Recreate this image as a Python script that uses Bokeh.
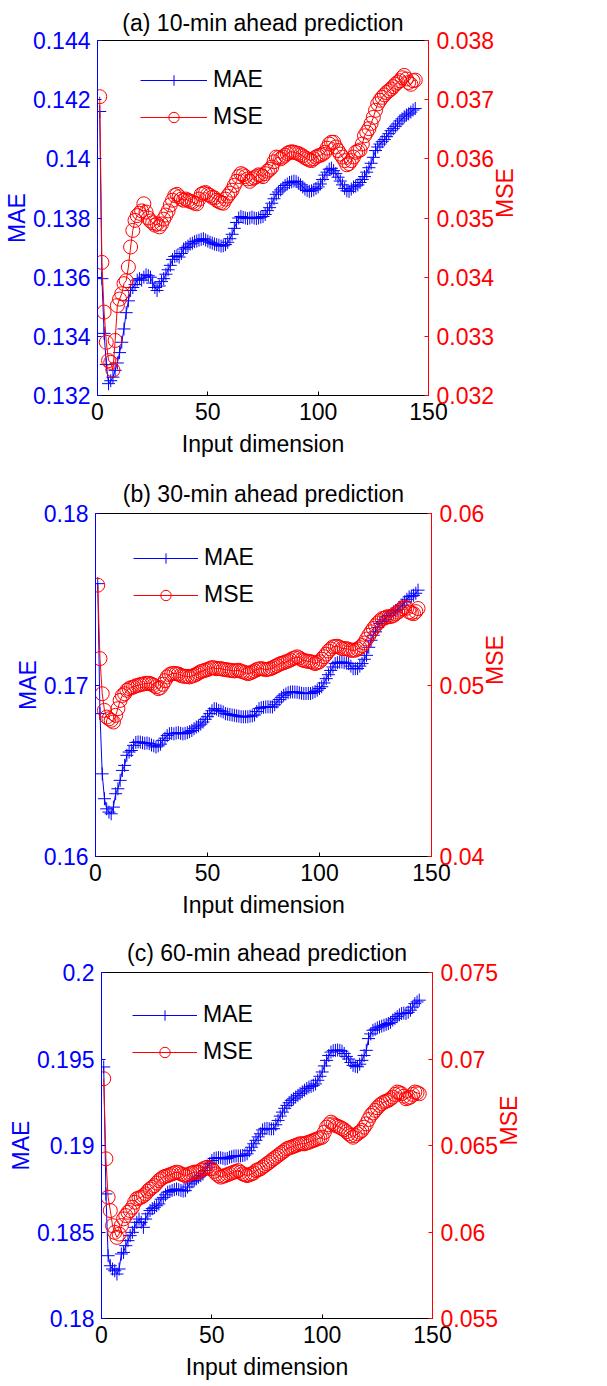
import math

from bokeh.embed import file_html
from bokeh.models import (CustomJSTickFormatter, FixedTicker, Legend, LegendItem,
                          LinearAxis, Range1d)
from bokeh.plotting import figure
from bokeh.resources import INLINE

# ---------------------------------------------------------------- data
dims = list(range(1, 145))

mae_10 = [
    0.14160, 0.13595, 0.13410, 0.13305, 0.13240, 0.13250, 0.13262, 0.13285, 0.13310, 0.13345,
    0.13380, 0.13425, 0.13480, 0.13520, 0.13555, 0.13565, 0.13575, 0.13590, 0.13595, 0.13590,
    0.13600, 0.13608, 0.13605, 0.13600, 0.13580, 0.13565, 0.13555, 0.13570, 0.13585, 0.13595,
    0.13610, 0.13625, 0.13640, 0.13660, 0.13670, 0.13672, 0.13668, 0.13680, 0.13695, 0.13700,
    0.13705, 0.13712, 0.13715, 0.13720, 0.13722, 0.13725, 0.13728, 0.13730, 0.13726, 0.13722,
    0.13718, 0.13715, 0.13712, 0.13710, 0.13708, 0.13705, 0.13706, 0.13710, 0.13718, 0.13730,
    0.13745, 0.13765, 0.13785, 0.13800, 0.13805, 0.13802, 0.13800, 0.13798, 0.13800, 0.13803,
    0.13800, 0.13798, 0.13800, 0.13803, 0.13805, 0.13812, 0.13825, 0.13835, 0.13850, 0.13865,
    0.13880, 0.13888, 0.13895, 0.13902, 0.13910, 0.13915, 0.13920, 0.13922, 0.13925, 0.13923,
    0.13918, 0.13912, 0.13905, 0.13898, 0.13893, 0.13890, 0.13892, 0.13895, 0.13900, 0.13905,
    0.13915, 0.13930, 0.13945, 0.13955, 0.13965, 0.13968, 0.13960, 0.13950, 0.13938, 0.13925,
    0.13912, 0.13900, 0.13892, 0.13890, 0.13898, 0.13905, 0.13908, 0.13912, 0.13920, 0.13930,
    0.13940, 0.13955, 0.13970, 0.13985, 0.14005, 0.14028, 0.14040, 0.14050, 0.14058, 0.14065,
    0.14075, 0.14085, 0.14095, 0.14102, 0.14110, 0.14118, 0.14128, 0.14135, 0.14142, 0.14148,
    0.14152, 0.14158, 0.14165, 0.14170,
]
mse_10 = [
    0.03705, 0.03425, 0.03341, 0.03290, 0.03259, 0.03256, 0.03243, 0.03293, 0.03352, 0.03363,
    0.03372, 0.03389, 0.03394, 0.03417, 0.03451, 0.03479, 0.03496, 0.03504, 0.03508, 0.03512,
    0.03524, 0.03510, 0.03500, 0.03495, 0.03492, 0.03488, 0.03490, 0.03485, 0.03490, 0.03498,
    0.03505, 0.03512, 0.03522, 0.03530, 0.03538, 0.03540, 0.03536, 0.03532, 0.03530, 0.03532,
    0.03530, 0.03528, 0.03527, 0.03525, 0.03524, 0.03532, 0.03540, 0.03542, 0.03543, 0.03540,
    0.03538, 0.03535, 0.03534, 0.03530, 0.03528, 0.03526, 0.03525, 0.03532, 0.03537, 0.03542,
    0.03547, 0.03555, 0.03562, 0.03570, 0.03575, 0.03573, 0.03570, 0.03566, 0.03562, 0.03566,
    0.03568, 0.03570, 0.03573, 0.03572, 0.03570, 0.03575, 0.03579, 0.03582, 0.03586, 0.03595,
    0.03603, 0.03602, 0.03600, 0.03603, 0.03606, 0.03609, 0.03611, 0.03612, 0.03611, 0.03610,
    0.03609, 0.03607, 0.03605, 0.03602, 0.03600, 0.03598, 0.03597, 0.03600, 0.03603, 0.03605,
    0.03606, 0.03608, 0.03611, 0.03618, 0.03625, 0.03628, 0.03628, 0.03620, 0.03614, 0.03608,
    0.03603, 0.03597, 0.03590, 0.03592, 0.03597, 0.03603, 0.03611, 0.03613, 0.03615, 0.03625,
    0.03639, 0.03645, 0.03651, 0.03660, 0.03670, 0.03682, 0.03693, 0.03699, 0.03704, 0.03708,
    0.03712, 0.03715, 0.03718, 0.03722, 0.03726, 0.03729, 0.03732, 0.03737, 0.03741, 0.03735,
    0.03729, 0.03726, 0.03732, 0.03733,
]

mae_30 = [
    0.17591, 0.16833, 0.16482, 0.16337, 0.16278, 0.16259, 0.16249, 0.16288, 0.16366, 0.16395,
    0.16444, 0.16502, 0.16531, 0.16590, 0.16609, 0.16618, 0.16648, 0.16665, 0.16668, 0.16667,
    0.16663, 0.16660, 0.16662, 0.16658, 0.16650, 0.16645, 0.16638, 0.16645, 0.16655, 0.16677,
    0.16690, 0.16705, 0.16716, 0.16718, 0.16715, 0.16720, 0.16722, 0.16718, 0.16715, 0.16718,
    0.16722, 0.16728, 0.16735, 0.16745, 0.16755, 0.16762, 0.16772, 0.16784, 0.16800, 0.16815,
    0.16833, 0.16850, 0.16862, 0.16860, 0.16852, 0.16848, 0.16843, 0.16833, 0.16830, 0.16828,
    0.16825, 0.16823, 0.16820, 0.16818, 0.16815, 0.16814, 0.16815, 0.16815, 0.16818, 0.16820,
    0.16825, 0.16845, 0.16862, 0.16868, 0.16870, 0.16872, 0.16873, 0.16872, 0.16872, 0.16885,
    0.16901, 0.16915, 0.16928, 0.16940, 0.16948, 0.16955, 0.16959, 0.16960, 0.16959, 0.16958,
    0.16955, 0.16952, 0.16950, 0.16950, 0.16951, 0.16950, 0.16955, 0.16962, 0.16970, 0.16980,
    0.16990, 0.17012, 0.17037, 0.17060, 0.17085, 0.17105, 0.17125, 0.17130, 0.17133, 0.17134,
    0.17130, 0.17128, 0.17125, 0.17110, 0.17095, 0.17095, 0.17096, 0.17110, 0.17125, 0.17150,
    0.17173, 0.17220, 0.17261, 0.17290, 0.17310, 0.17335, 0.17358, 0.17370, 0.17380, 0.17397,
    0.17405, 0.17415, 0.17426, 0.17435, 0.17442, 0.17455, 0.17465, 0.17485, 0.17500, 0.17514,
    0.17518, 0.17523, 0.17535, 0.17553,
]
mse_30 = [
    0.05582, 0.05154, 0.04949, 0.04852, 0.04813, 0.04803, 0.04794, 0.04784, 0.04823, 0.04862,
    0.04910, 0.04939, 0.04949, 0.04969, 0.04979, 0.04985, 0.04988, 0.04995, 0.04998, 0.05002,
    0.05005, 0.05008, 0.05010, 0.05010, 0.05005, 0.04998, 0.04990, 0.04979, 0.04985, 0.05004,
    0.05025, 0.05047, 0.05060, 0.05066, 0.05068, 0.05066, 0.05064, 0.05056, 0.05052, 0.05051,
    0.05050, 0.05047, 0.05052, 0.05056, 0.05062, 0.05070, 0.05078, 0.05082, 0.05086, 0.05090,
    0.05096, 0.05101, 0.05100, 0.05095, 0.05096, 0.05095, 0.05092, 0.05090, 0.05088, 0.05086,
    0.05084, 0.05082, 0.05084, 0.05086, 0.05080, 0.05076, 0.05072, 0.05066, 0.05070, 0.05076,
    0.05082, 0.05090, 0.05094, 0.05095, 0.05093, 0.05090, 0.05092, 0.05095, 0.05100, 0.05107,
    0.05113, 0.05121, 0.05126, 0.05130, 0.05135, 0.05140, 0.05146, 0.05154, 0.05158, 0.05164,
    0.05158, 0.05148, 0.05143, 0.05140, 0.05138, 0.05136, 0.05132, 0.05125, 0.05130, 0.05136,
    0.05150, 0.05165, 0.05180, 0.05198, 0.05210, 0.05222, 0.05225, 0.05226, 0.05220, 0.05212,
    0.05212, 0.05212, 0.05208, 0.05202, 0.05203, 0.05203, 0.05210, 0.05218, 0.05230, 0.05245,
    0.05268, 0.05290, 0.05310, 0.05329, 0.05345, 0.05362, 0.05375, 0.05387, 0.05390, 0.05397,
    0.05398, 0.05400, 0.05405, 0.05416, 0.05425, 0.05436, 0.05445, 0.05455, 0.05448, 0.05426,
    0.05420, 0.05416, 0.05428, 0.05446,
]

mae_60 = [
    0.19454, 0.18720, 0.18363, 0.18305, 0.18286, 0.18276, 0.18257, 0.18286, 0.18373, 0.18382,
    0.18421, 0.18450, 0.18479, 0.18498, 0.18527, 0.18556, 0.18575, 0.18556, 0.18527, 0.18575,
    0.18605, 0.18624, 0.18635, 0.18643, 0.18652, 0.18662, 0.18690, 0.18700, 0.18715, 0.18730,
    0.18735, 0.18740, 0.18745, 0.18749, 0.18745, 0.18740, 0.18737, 0.18739, 0.18760, 0.18778,
    0.18790, 0.18797, 0.18807, 0.18817, 0.18826, 0.18836, 0.18855, 0.18875, 0.18895, 0.18913,
    0.18925, 0.18928, 0.18930, 0.18929, 0.18926, 0.18922, 0.18925, 0.18932, 0.18935, 0.18939,
    0.18940, 0.18939, 0.18940, 0.18942, 0.18945, 0.18952, 0.18970, 0.18990, 0.19010, 0.19030,
    0.19050, 0.19068, 0.19090, 0.19097, 0.19099, 0.19097, 0.19096, 0.19097, 0.19120, 0.19145,
    0.19170, 0.19193, 0.19215, 0.19232, 0.19247, 0.19261, 0.19270, 0.19280, 0.19290, 0.19300,
    0.19310, 0.19320, 0.19330, 0.19338, 0.19342, 0.19348, 0.19356, 0.19377, 0.19400, 0.19425,
    0.19460, 0.19492, 0.19520, 0.19540, 0.19548, 0.19550, 0.19552, 0.19550, 0.19545, 0.19532,
    0.19515, 0.19500, 0.19480, 0.19463, 0.19458, 0.19455, 0.19470, 0.19492, 0.19520, 0.19550,
    0.19618, 0.19645, 0.19666, 0.19672, 0.19680, 0.19685, 0.19690, 0.19695, 0.19700, 0.19705,
    0.19712, 0.19725, 0.19735, 0.19745, 0.19755, 0.19763, 0.19765, 0.19763, 0.19770, 0.19782,
    0.19800, 0.19820, 0.19830, 0.19840,
]
mse_60 = [
    0.06886, 0.06423, 0.06201, 0.06124, 0.06037, 0.05998, 0.05969, 0.05988, 0.06037, 0.06076,
    0.06095, 0.06114, 0.06124, 0.06143, 0.06172, 0.06192, 0.06197, 0.06201, 0.06210, 0.06220,
    0.06236, 0.06249, 0.06258, 0.06268, 0.06283, 0.06297, 0.06307, 0.06317, 0.06322, 0.06326,
    0.06331, 0.06336, 0.06341, 0.06346, 0.06343, 0.06336, 0.06331, 0.06326, 0.06331, 0.06336,
    0.06341, 0.06346, 0.06346, 0.06346, 0.06356, 0.06365, 0.06370, 0.06375, 0.06368, 0.06365,
    0.06350, 0.06336, 0.06326, 0.06317, 0.06322, 0.06326, 0.06331, 0.06336, 0.06341, 0.06346,
    0.06350, 0.06355, 0.06345, 0.06336, 0.06331, 0.06326, 0.06331, 0.06336, 0.06341, 0.06355,
    0.06360, 0.06365, 0.06375, 0.06384, 0.06394, 0.06403, 0.06413, 0.06423, 0.06432, 0.06442,
    0.06452, 0.06461, 0.06471, 0.06481, 0.06486, 0.06490, 0.06495, 0.06500, 0.06505, 0.06510,
    0.06510, 0.06510, 0.06515, 0.06519, 0.06524, 0.06529, 0.06534, 0.06539, 0.06544, 0.06548,
    0.06577, 0.06606, 0.06620, 0.06635, 0.06625, 0.06616, 0.06611, 0.06606, 0.06598, 0.06591,
    0.06580, 0.06568, 0.06558, 0.06548, 0.06558, 0.06568, 0.06577, 0.06587, 0.06606, 0.06625,
    0.06650, 0.06674, 0.06688, 0.06703, 0.06718, 0.06732, 0.06742, 0.06751, 0.06756, 0.06761,
    0.06770, 0.06780, 0.06795, 0.06809, 0.06805, 0.06799, 0.06785, 0.06770, 0.06775, 0.06780,
    0.06795, 0.06809, 0.06805, 0.06799,
]

x_ticks = [0, 50, 100, 150]
mae_ticks_10 = [0.132, 0.134, 0.136, 0.138, 0.14, 0.142, 0.144]
mse_ticks_10 = [0.032, 0.033, 0.034, 0.035, 0.036, 0.037, 0.038]
mae_ticks_30 = [0.16, 0.17, 0.18]
mse_ticks_30 = [0.04, 0.05, 0.06]
mae_ticks_60 = [0.18, 0.185, 0.19, 0.195, 0.2]
mse_ticks_60 = [0.055, 0.06, 0.065, 0.07, 0.075]

titles = ["(a) 10-min ahead prediction",
          "(b) 30-min ahead prediction",
          "(c) 60-min ahead prediction"]

# ---------------------------------------------------------------- styling
FONT = "Liberation Sans"
BLUE = "#0000FF"
RED = "#FF0000"
W = 607

# MATLAB-style labels: shortest representation of the tick value
plain = CustomJSTickFormatter(code="return tick.toString()")


def style_axis(ax, color, ticks):
    ax.ticker = FixedTicker(ticks=ticks)
    ax.formatter = plain
    ax.axis_line_color = color
    ax.major_tick_line_color = color
    ax.major_tick_in = 4
    ax.major_tick_out = 0
    ax.minor_tick_line_color = None
    ax.major_label_text_color = color
    ax.major_label_text_font = FONT
    ax.major_label_text_font_size = "23px"
    ax.major_label_standoff = 7
    ax.axis_label_text_color = color
    ax.axis_label_text_font = FONT
    ax.axis_label_text_font_style = "normal"


def make_panel(title, mae, mse, mae_rng, mse_rng, mae_ticks, mse_ticks,
               height, top, bottom, left, right, title_gap, leg_x, leg_y, leg_w):
    p = figure(width=W, height=height, output_backend="svg", toolbar_location=None,
               x_range=Range1d(0, 150), y_range=Range1d(*mae_rng),
               min_border_top=top, min_border_bottom=bottom,
               min_border_left=left, min_border_right=right)
    p.extra_y_ranges = {"mse": Range1d(*mse_rng)}
    p.grid.visible = False
    p.outline_line_color = "black"
    p.background_fill_color = "white"
    p.border_fill_color = "white"

    p.title.text = title
    p.title.align = "center"
    p.title.text_font = FONT
    p.title.text_font_size = "23px"
    p.title.text_font_style = "normal"
    p.title.text_color = "black"
    p.title.standoff = title_gap

    xa = p.xaxis[0]
    style_axis(xa, "black", x_ticks)
    xa.axis_label = "Input dimension"
    xa.axis_label_text_font_size = "23px"
    xa.axis_label_standoff = 8

    ya = p.yaxis[0]
    style_axis(ya, BLUE, mae_ticks)
    ya.axis_label = "MAE"
    ya.axis_label_text_font_size = "23px"
    ya.axis_label_standoff = 0

    ra = LinearAxis(y_range_name="mse")
    style_axis(ra, RED, mse_ticks)
    ra.major_label_standoff = 8
    ra.axis_label = "MSE"
    ra.axis_label_text_font_size = "23px"
    ra.axis_label_standoff = 8
    ra.axis_label_orientation = math.pi / 2
    p.add_layout(ra, "right")

    l1 = p.line(dims, mae, line_color=BLUE, line_width=1)
    m1 = p.scatter(dims, mae, marker="cross", size=13, line_color=BLUE, line_width=1)
    l2 = p.line(dims, mse, line_color=RED, line_width=1, y_range_name="mse")
    m2 = p.scatter(dims, mse, marker="circle", size=14, line_color=RED, line_width=1,
                   fill_color=None, y_range_name="mse")

    leg = Legend(items=[LegendItem(label="MAE", renderers=[l1, m1]),
                        LegendItem(label="MSE", renderers=[l2, m2])],
                 location=(leg_x, leg_y), orientation="vertical",
                 border_line_color=None, background_fill_alpha=0,
                 label_text_font=FONT, label_text_font_size="23px",
                 label_text_color="black",
                 glyph_width=leg_w, glyph_height=26, label_height=26,
                 spacing=10, padding=0, margin=0, label_standoff=6)
    p.add_layout(leg)
    return p


pa = make_panel(titles[0], mae_10, mse_10, (0.132, 0.144), (0.032, 0.038),
                mae_ticks_10, mse_ticks_10,
                height=468, top=40, bottom=73, left=96, right=179, title_gap=10,
                leg_x=43, leg_y=265, leg_w=67)
pb = make_panel(titles[1], mae_30, mse_30, (0.16, 0.18), (0.04, 0.06),
                mae_ticks_30, mse_ticks_30,
                height=458, top=45, bottom=70, left=95, right=176, title_gap=14,
                leg_x=38, leg_y=248, leg_w=65)
pc = make_panel(titles[2], mae_60, mse_60, (0.18, 0.2), (0.055, 0.075),
                mae_ticks_60, mse_ticks_60,
                height=460, top=46, bottom=68, left=101, right=175, title_gap=14,
                leg_x=31, leg_y=253, leg_w=65)

# three independent roots, stacked top to bottom in the page
open("out.html", "w").write(file_html([pa, pb, pc], INLINE))
